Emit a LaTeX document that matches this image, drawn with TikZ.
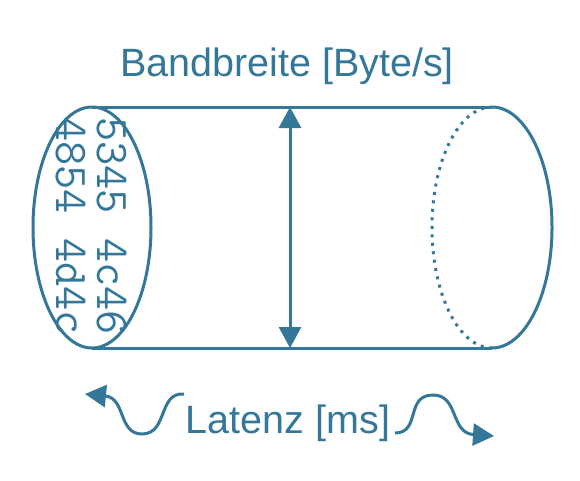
\documentclass[tikz,border=0pt]{standalone}
\usepackage{fontspec}
\setmainfont{Liberation Sans}
\usetikzlibrary{arrows.meta}
\definecolor{pipeblue}{RGB}{52,119,153}

\begin{document}
\begin{tikzpicture}[x=1pt, y=-1pt, >={Triangle[length=21pt,width=22pt]},
  pipe/.style={draw=pipeblue, line width=3pt},
  lbl/.style={text=pipeblue, font=\fontsize{39.5}{46}\selectfont}]
\useasboundingbox (0,0) rectangle (580,480);
% bytes inside the pipe
\node[text=pipeblue, rotate=-90, align=left, inner sep=0pt,
  font=\ttfamily\fontsize{47}{41}\selectfont] (bytes) at (91,226) {5345 4c46\\4854 4d4c};
% the pipe
\draw[pipe] (92,107) -- (492,107);
\draw[pipe] (92,348) -- (492,348);
\draw[pipe] (92,227.5) ellipse [x radius=59, y radius=120.5];
\draw[pipe] (492,107) arc [start angle=-90, end angle=90, x radius=60, y radius=120.5];
\draw[pipe, dash pattern=on 3pt off 5.5pt] (492,348) arc [start angle=90, end angle=270, x radius=60, y radius=120.5];
% bandwidth
\node[lbl] (bw) at (287,66) {Bandbreite [Byte/s]};
\coordinate (bwtop) at (290,107);
\coordinate (bwbot) at (290,348);
\draw[pipe, <->] (bwtop) -- (bwbot);
% latency
\node[lbl] (lat) at (288,423) {Latenz [ms]};
\coordinate (lfrom) at (184,394);
\coordinate (lto) at (85,394);
\coordinate (rfrom) at (395,433);
\coordinate (rto) at (494,436);
\draw[pipe, ->] (lfrom) .. controls (158,392) and (168,434) .. (142,434)
  .. controls (118,434) and (126,398) .. (lto);
\draw[pipe, ->] (rfrom) .. controls (421,433) and (405,395) .. (433,395)
  .. controls (459,395) and (450,433) .. (rto);
\end{tikzpicture}
\end{document}
